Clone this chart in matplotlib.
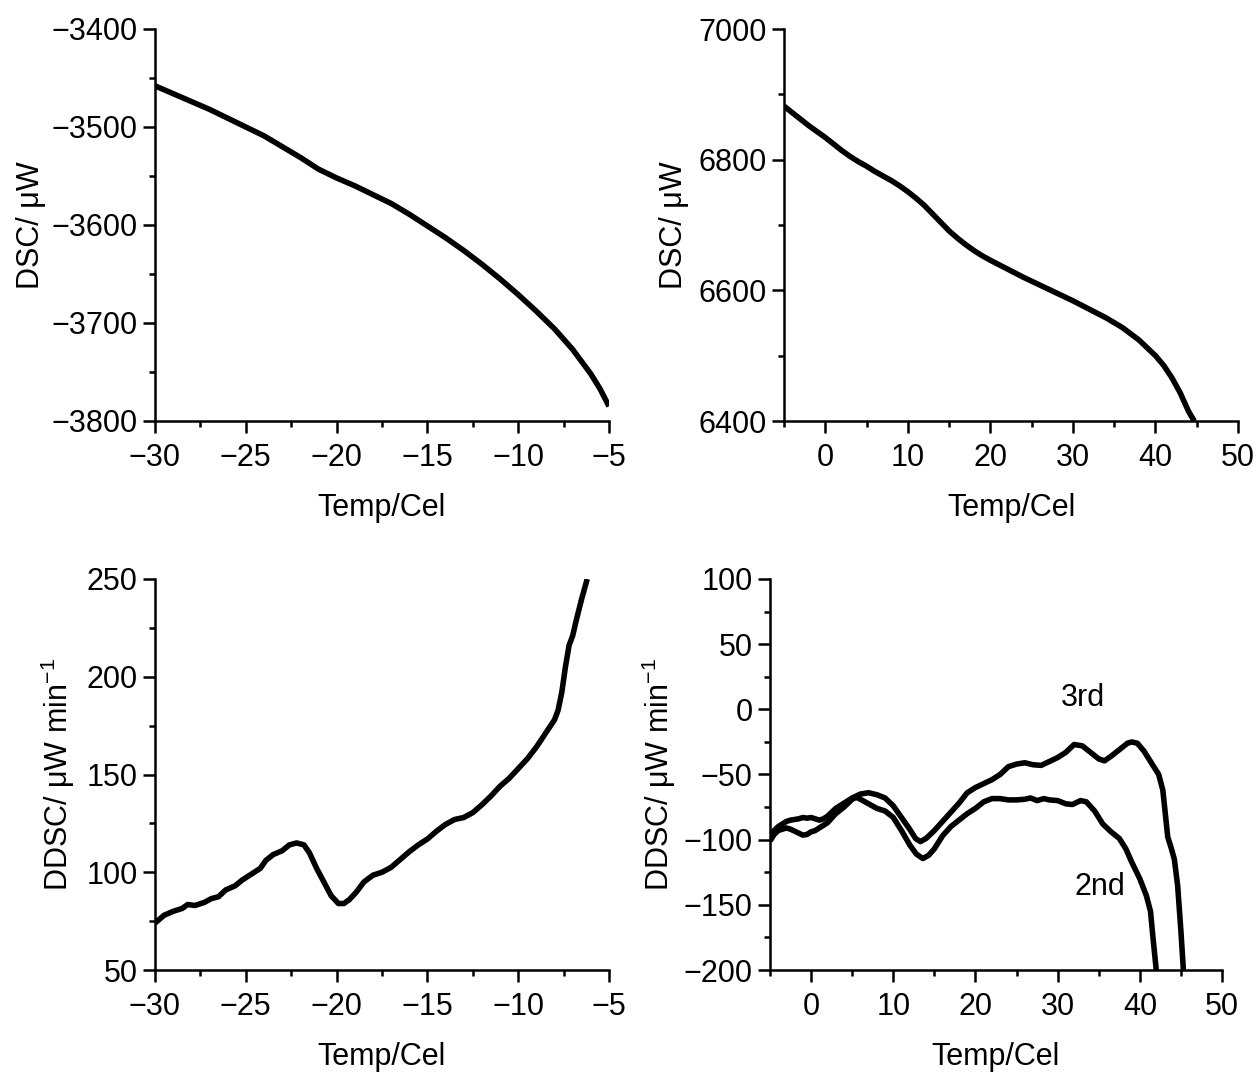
import matplotlib
matplotlib.use("Agg")
import matplotlib.pyplot as plt
from matplotlib import font_manager
from matplotlib.ticker import MultipleLocator, AutoMinorLocator

_names = {f.name for f in font_manager.fontManager.ttflist}
if 'Liberation Sans Narrow' in _names:
    FAM = 'Liberation Sans Narrow'
    FS = 26
else:
    FAM = 'Liberation Sans'
    FS = 22
plt.rcParams['font.family'] = [FAM, 'DejaVu Sans']
plt.rcParams['axes.unicode_minus'] = True
plt.rcParams['mathtext.fontset'] = 'custom'
plt.rcParams['mathtext.rm'] = FAM

# ---- Panel 1: DSC, -30..-5 C ----
t1 = [-30, -29, -28, -27, -26, -25, -24, -23, -22, -21, -20, -19, -18, -17, -16,
      -15, -14, -13, -12, -11, -10, -9, -8, -7, -6, -5.5, -5]
dsc1 = [-3458, -3466, -3474, -3482, -3491, -3500, -3509, -3520, -3531, -3543, -3552,
        -3560, -3569, -3578, -3589, -3601, -3613, -3626, -3640, -3655, -3671, -3688,
        -3706, -3727, -3752, -3767, -3785]

# ---- Panel 2: DSC, -5..50 C ----
t2 = [-5, -4, -3, -2, -1, 0, 1, 2, 3, 4, 5, 6, 7, 8, 9, 10, 11, 12, 13, 14, 15, 16,
      17, 18, 19, 20, 22, 24, 26, 28, 30, 32, 34, 36, 38, 40, 41, 42, 43, 44, 44.7]
dsc2 = [6882, 6872, 6862, 6852, 6843, 6834, 6824, 6814, 6805, 6797, 6790, 6782, 6775,
        6768, 6760, 6751, 6741, 6730, 6717, 6704, 6691, 6680, 6670, 6661, 6653, 6646,
        6633, 6620, 6608, 6596, 6584, 6571, 6558, 6543, 6524, 6500, 6485, 6466, 6443,
        6415, 6400]

# ---- Panel 3: DDSC, -30..-5 C ----
t3 = [-30, -29.5, -29, -28.5, -28.2, -27.8, -27.3, -26.9, -26.5, -26.1, -25.6, -25.2,
      -24.7, -24.2, -23.9, -23.5, -23.0, -22.6, -22.2, -21.8, -21.5, -21.1, -20.7,
      -20.3, -19.9, -19.6, -19.3, -18.9, -18.5, -18.0, -17.5, -17.0, -16.5, -16.0,
      -15.5, -15.0, -14.5, -14.0, -13.5, -13.0, -12.5, -12.0, -11.5, -11.0, -10.5,
      -10.0, -9.5, -9.0, -8.5, -8.0, -7.8, -7.6, -7.4, -7.2, -7.0, -6.8, -6.5, -6.2]
ddsc3 = [74, 78, 80, 81.5, 83.5, 83, 84.5, 86.5, 87.5, 91, 93, 96, 99, 102, 106, 109,
         111, 114, 115, 114, 110, 102, 95, 88, 84, 84, 86, 90, 95, 98.5, 100, 102.5,
         106.5, 110.5, 114, 117, 121, 124.5, 127, 128, 130.5, 134.5, 139, 144, 148,
         153, 158, 164, 171, 178, 183, 192, 205, 216, 221, 229, 240, 250]

# ---- Panel 4: DDSC, -5..50 C, 2nd and 3rd runs ----
t4_3rd = [-5, -4.5, -4, -3.5, -3, -2.5, -2, -1.5, -1, -0.5, 0, 0.5, 1, 1.5, 2, 2.5, 3,
          4, 5, 6, 7, 8, 9, 10, 11, 12, 12.7, 13.3, 14, 15, 16, 17, 18, 19, 20, 21,
          22, 23, 24, 25, 26, 27, 28, 29, 30, 31, 32, 33, 34, 35, 35.7, 36.5, 37.5,
          38.5, 39, 39.7, 40.5, 41.5, 42.3, 42.8, 43.1, 43.4, 43.8, 44.2, 44.6, 45.0,
          45.3]
ddsc4_3rd = [-101, -93, -90, -88, -86, -85, -84.5, -84, -83, -83.5, -83, -84, -85, -84,
             -82, -79, -76, -72, -68, -65, -64, -65.5, -68, -74, -83, -92, -99, -101.5,
             -99, -93, -86, -79, -72, -64, -60, -57, -54, -50, -44, -42, -41, -42.5,
             -43, -40, -37, -33, -27, -28, -33, -38, -39.5, -36, -31, -26, -25, -26,
             -32, -42, -50, -62, -80, -98, -106, -115, -135, -170, -200]
t4_2nd = [-5, -4.5, -4, -3.5, -3, -2.5, -2, -1.5, -1, -0.5, 0, 0.5, 1, 2, 3, 4, 5, 5.5,
          6, 7, 8, 9, 10, 11, 12, 12.8, 13.6, 14.3, 15, 16, 17, 18, 19, 20, 21, 22,
          23, 24, 25, 26, 26.7, 27.5, 28.3, 29, 30, 31, 31.8, 32.8, 33.5, 34.5, 35.5,
          36.5, 37.5, 38.3, 39, 40, 40.8, 41.3, 41.6, 42.0]
ddsc4_2nd = [-101, -96, -93, -92, -91, -92, -93.5, -95, -96.5, -96, -94, -93, -91, -87,
             -80, -75, -69, -67.5, -69, -72.5, -76, -78, -83, -93, -104, -111, -114.5,
             -112, -107, -97, -90, -85, -80, -76, -71, -68.5, -68.5, -69.5, -69.5, -69,
             -68, -70, -68.5, -69.5, -70, -72.5, -73, -70, -71, -78, -88, -94, -99,
             -107, -117, -130, -143, -155, -175, -200]
run_labels = ["2nd", "3rd"]

xlabel = "Temp/Cel"
ylab_dsc = "DSC/ μW"
ylab_ddsc = "DDSC/ μW min$^{-1}$"

W, H = 1259, 1072
fig = plt.figure(figsize=(W / 100, H / 100), dpi=100)

def box(l, t, r, b):
    return [l / W, 1 - b / H, (r - l) / W, (b - t) / H]

ax1 = fig.add_axes(box(155, 29, 609, 421))
ax2 = fig.add_axes(box(784, 29, 1238, 421))
ax3 = fig.add_axes(box(155, 579, 609, 970))
ax4 = fig.add_axes(box(770, 579, 1222, 970))

LW = 4.0

def style(ax, xlim, ylim, xmaj, ymaj, ylabel, ylab_x):
    ax.set_xlim(*xlim)
    ax.set_ylim(*ylim)
    ax.xaxis.set_major_locator(MultipleLocator(xmaj))
    ax.xaxis.set_minor_locator(AutoMinorLocator(2))
    ax.yaxis.set_major_locator(MultipleLocator(ymaj))
    ax.yaxis.set_minor_locator(AutoMinorLocator(2))
    for s in ['top', 'right']:
        ax.spines[s].set_visible(False)
    for s in ['left', 'bottom']:
        ax.spines[s].set_linewidth(1.8)
    ax.tick_params(which='major', direction='out', length=8.5, width=1.8,
                   labelsize=FS)
    ax.tick_params(axis='x', which='major', pad=7)
    ax.tick_params(axis='y', which='major', pad=4)
    ax.tick_params(which='minor', direction='out', length=4.5, width=1.8)
    ax.set_xlabel(xlabel, fontsize=FS, labelpad=15)
    ax.set_ylabel(ylabel, fontsize=FS)
    ax.yaxis.set_label_coords(ylab_x, 0.5)

ax1.plot(t1, dsc1, color='black', lw=LW, solid_capstyle='butt')
style(ax1, (-30, -5), (-3800, -3400), 5, 100, ylab_dsc, -0.239)

ax2.plot(t2, dsc2, color='black', lw=LW, solid_capstyle='butt')
style(ax2, (-5, 50), (6400, 7000), 10, 200, ylab_dsc, -0.21)

ax3.plot(t3, ddsc3, color='black', lw=LW, solid_capstyle='butt')
style(ax3, (-30, -5), (50, 250), 5, 50, ylab_ddsc, -0.172)

ax4.plot(t4_2nd, ddsc4_2nd, color='black', lw=LW, solid_capstyle='butt')
ax4.plot(t4_3rd, ddsc4_3rd, color='black', lw=LW, solid_capstyle='butt')
style(ax4, (-5, 50), (-200, 100), 10, 50, ylab_ddsc, -0.203)
ax4.text(33.1, 8.5, run_labels[1], fontsize=FS, ha='center', va='center')
ax4.text(35.2, -136, run_labels[0], fontsize=FS, ha='center', va='center')

fig.savefig("out.png", dpi=100)
